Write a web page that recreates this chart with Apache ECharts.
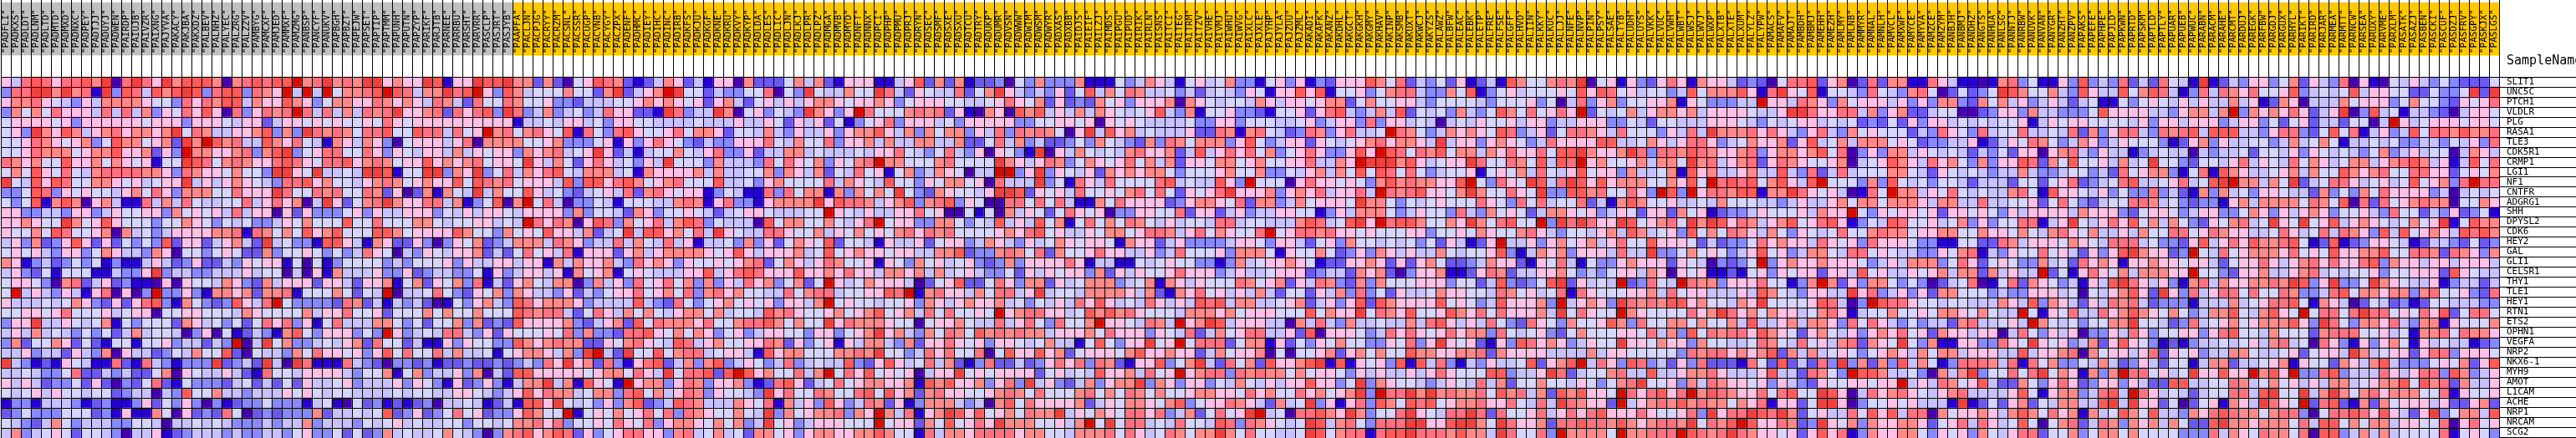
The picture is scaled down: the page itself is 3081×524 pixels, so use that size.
<!DOCTYPE html>
<html><head><meta charset="utf-8">
<style>html,body{margin:0;padding:0;background:#fff}#c{width:3081px;height:524px}</style>
<script src="https://cdn.jsdelivr.net/npm/echarts@6/dist/echarts.min.js"></script></head>
<body><div id="c"></div>
<script>
// colour levels 0..11 (hex digit per cell), one string per gene
const palette = ["#4500AD","#2700D1","#6B58EF","#8888FF","#C7C1FF","#D5D5FF","#FFC0E5","#FF8989","#FF7080","#FF5A5A","#EF4040","#D60C00"];
const greySamples = "PADFLI PADKXS PADLDT PADLNM PADLTD PADMTD PADMXD PADNXC PADPEY PADTJJ PADUYJ PADWEN PAIRDP PAIUJB PAIVZR PAIXNG PAJYVA PAKACY PAKJBA PAKXDZ PALBEV PALNHZ PALYEC PALZRG PALZZV PAMBYG PAMCXF PAMJED PAMMXF PAMZMG PANBSP PANCYF PANUKV PAPBGH PAPBZT PAPEJW PAPSET PAPTIP PAPTMM PAPUNH PAPUTN PAPZYP PARIKF PARJTB PARNEE PARRBU PARSHT PARVRR PASCLP PASJRT PASJYB".split(" ");
const yellowSamples = "PAAPFA PACLJN PACPJG PACRYY PACRZM PACSNL PACSSR PACUGP PACVNB PACYGY PACZPX PADENF PADHMC PADIEY PADIHC PADINC PADIRB PADKFS PADKJU PADKGF PADKNE PADKRU PADKVY PADKYP PADLDA PADLES PADLIC PADLJN PADLKJ PADLPR PADLPZ PADMGA PADMVB PADMYD PADNFT PADNNX PADPCI PADPHP PADPMU PADPRJ PADRYN PADSEC PADSMF PADSXE PADSXU PADTCU PADTRY PADUKP PADUMR PADVSN PADWWW PADWIM PADWSM PADWYR PADXAS PADXBB PAIDJS PAIEIF PAILZJ PAIMDS PAIPGU PAIPUD PAIRIK PAIRLN PAISNS PAITCI PAITEG PAITRM PAITZV PAIVHE PAIVMJ PAIWHU PAIWVG PAIXLC PAJXLE PAJYHP PAJYLA PAJZUU PAJZML PAKADI PAKAFK PAKANZ PAKDHL PAKGCT PAKGKH PAKGMY PAKHAV PAKINP PAKSMB PAKUXT PAKWCJ PAKYZS PALAWZ PALBFW PALEAC PALEBK PALETP PALFRE PALFSE PALGFF PALHVD PALIIN PALKKY PALKUC PALLJJ PALNFE PALNVP PALPIN PALPSY PALSAE PALTYB PALUDH PALUYS PALVKK PALVUC PALVWH PALWBT PALWSJ PALWVJ PALWXP PALXTB PALXTE PALXUM PALYLZ PALYPW PAMACS PAMAFV PAMAJT PAMBDH PAMBMJ PAMEHH PAMEZH PAMLMY PAMLNB PAMMYR PAMNAL PAMNLH PAMVCL PAMXWF PAMYCE PAMYVA PAMZCE PAMZYM PANBJH PANBMJ PANDHZ PANGTS PANHUA PANLSG PANNTJ PANRBW PANUVK PANVAN PANYGR PANZHT PANZPV PAPAKS PAPEFE PAPHPE PAPJLD PAPKWN PAPRTD PAPSKM PAPTLD PAPTLY PAPUAR PAPUEB PAPWUC PARABN PARACM PARAHE PARCMT PARDUJ PAREGK PARFBW PARGDJ PARGUX PARHYL PARIKT PARIRD PARJAR PARMEA PARMTT PARNCW PARSEA PARUXY PARVME PARXLM PASATK PASAZJ PASBEN PASCKI PASCUF PASDZJ PASFRV PASGPY PASKJX PASLGS".split(" ");
const geneNames = ["SLIT1","UNC5C","PTCH1","VLDLR","PLG","RASA1","TLE3","CDK5R1","CRMP1","LGI1","NF1","CNTFR","ADGRG1","SHH","DPYSL2","CDK6","HEY2","GAL","GLI1","CELSR1","THY1","TLE1","HEY1","RTN1","ETS2","OPHN1","VEGFA","NRP2","NKX6-1","MYH9","AMOT","L1CAM","ACHE","NRP1","NRCAM","SCG2"];

const r00="648986889 7a08a86a7 999707898 99b78a 787aa6766a91 66a99a772720 569872124762 416607222574 721666114692 727122305373 337111534764 156457331563 613266697582 435261241975 5787a0561632 686176642320 588926702827 711864110178 351163934382 428541a12436 635726438061 054643532225";
const r01="388aa7a78 1a3984979 a93899387 6b4b4b 57789b98477a 89b639745557 5527a2467ba5 52433558053a 544755a84265 448257a64343 625947587445 342454365166 969155635788 433759135645 556596985645 534957779618 a65915543854 3785025235a9 755743964495 798413848768 556934545946 655225335a2a";
const r02="677865436 477776553 868799476 697635 776687676487 428558755633 244455676765 626742564646 776566763566 655445686572 623275636667 076545547646 656772575566 435555435556 350483673556 6716533344b6 648763756664 636377327574 634642451153 565464644746 127604447566 635755326568";
const r03="375758666 484847365 869608368 78b848 474878a66782 86893a834734 534866221a83 44a70563543a 7636b8555787 826107609794 647476545694 371556332155 626894347492 545374359758 5686b2545746 776746666544 6aa866884736 722455002366 374433359666 644367747b37 67686246a039 451443204665";
const r04="566665636 666665666 366654662 466565 655658656666 666666144546 645366554444 544464465264 625135683666 453666663355 665606565444 453366355544 563466383664 540454655646 634466633542 554446665435 456645452325 263664545455 614656655554 636646663466 352562442550 4b6456665665";
const r05="563a76974 67867767a 587446679 373a87 875889559884 856b78578659 185389655685 776255474364 463677964737 577364838787 506a49674544 462287178542 387368445b87 534767659834 625887648555 36484a777868 643684375655 524386538455 844548273688 438789499944 368832595814 634958879778";
const r06="556876567 359775672 a7b978449 768541 764763056664 680777755673 335616368653 243366685475 583667474477 447225847342 235375432738 757773695346 626545678677 64a466367653 486666994457 646886345766 726945747775 652334461246 587534763465 553126736445 534745751445 453344354638";
const r07="556877756 779667263 b77667837 9a3568 855863654664 746566376784 56a624145575 468336244774 544454668543 5843606531a0 647545478667 249468685735 68633696b985 879577476866 8599a7667a83 887987667836 776795803637 746545424352 660678436441 345440434452 554636545435 734645504764";
const r08="876755966 757656155 a98578766 898658 896787566967 6785665a6475 268645364a55 537444385865 736578b77555 785555a76468 735765685747 266577567556 684476baaa79 64566a855875 9498b6755674 775a78467826 876556704569 764867537366 982759556474 5a5532554684 654857645774 678974614958";
const r09="575965854 788887763 876657553 aa65a4 454aa9155aa3 76a358476895 477745176666 747445573764 725485615734 765044bb36a3 654627676775 355567557335 467475959858 534556156574 854695663744 571967446744 943824845557 754265454344 743345534285 677315819764 456747559767 855886625657";
const r10="a54969855 776564566 a46467654 388967 554678756766 959878566649 399689756785 559445367555 584765495536 5775608444a3 518648555589 4544963b5550 686656537978 77669b53865a 948a96967775 57695b898957 9649b5553739 545355424442 552568234589 44568459ab77 475a24588645 645956738b88";
const r11="335983656 554675863 777558666 a85587 855872602717 54a475596453 245648278656 613541183857 71737575a532 765546aa9265 648556578585 26568a666736 76846684b878 96657a755865 a33997855863 b93b68879917 7a865640185b 774658545447 851966546353 383421737453 665442735375 866663404545";
const r12="535917970 674118474 854455846 86704a 62578a766884 7135907b5840 335415554478 716833167777 a69887467937 893650088585 841175866662 367765827734 756665a77535 456555865385 845582417975 564454755544 346446757757 776477448445 562585324558 874532331674 777758759082 856787705576";
const r13="663344366 346556637 565648466 062633 356364466635 464665466663 735542763556 542456654445 5b6546446685 600515074652 586560336655 826624634466 551364777534 655384375652 477656346526 627561233465 5564766b5365 665626656536 466664766632 566534663357 636467635564 385524362351";
const r14="667655a75 696555355 765354533 465755 595585557754 5566454b8687 069837568479 835444095775 575468b56633 775354946495 715857587546 455488455444 798459a6b899 75576a758955 b3a8a866a956 785a7a968746 795689613549 855645736355 88146a546869 574753265784 5a65a5694676 545756a15977";
const r15="655759855 670745346 666778187 575967 955599756666 975537565966 47245a499675 84a654488655 746575657868 785555676895 644657756887 468576558b56 887866565556 635565765578 643554674974 563957587647 536545855787 756677557665 754786574464 755885687664 458645848763 949567649897";
const r16="463723696 262535392 66246742a 453319 964176226303 657234777487 634484754846 144537362576 592554164462 566347643645 765665176624 633334665366 425637554545 35264126b446 367567468559 666524233586 766486563866 653311552287 466657654888 453326946869 778951291236 654124432523";
const r17="565643663 576443760 553565227 355653 534865043654 667242585648 166626746777 765696466674 595676656644 779233787582 755686644634 855563777516 557523637646 447545569314 76736664844a 335756534695 634775488565 443365781436 55856426369a 76623b548567 776856596677 955887287637";
const r18="761342353 513114642 362243656 615051 355553435556 364466466174 766743867636 556567825764 687556165375 645632373666 686144115456 553313745667 651226676262 675223476621 658415336766 6265403235b3 676676665346 477735862565 337452867616 676656642566 864678686689 376646646664";
const r19="463251555 114336a34 433444645 504061 744463362344 335163466461 756715654446 694689866696 676866477674 745643352646 566372646556 866634644566 623442767203 667112687244 667534356647 606561121563 656626649564 465674772746 44b251686574 77766b553266 744678454556 355666296544";
const r20="566530782 462311060 655476327 466626 642667157265 738142675477 037463856857 373648673572 5b6457666402 569225863772 645777345717 646555875672 648732737555 666355249323 59a26454b238 54b877366685 5137b7263775 353024580158 2765341649a8 646317847667 787a936a335a 765446134424";
const r21="5b4643641 680603b33 631776727 781555 75254b044585 326573764436 243566856758 378675544857 884556698b17 8664758846a4 554777764721 768564647425 526473835264 457665548756 458186555667 485664446497 5436644a6834 636277555343 366645054679 62a638468858 558733489577 677378556328";
const r22="644454576 326268931 753239648 b53333 287241434201 536743986777 634444943285 356756563664 7b5655455637 646766745354 648696454864 649894774456 724636929766 669565349666 73b46763a878 7996755476a5 555698403b98 865545544476 493764264878 423331444745 688951764025 423125544433";
const r23="556656855 564566055 665554765 555746 685562555757 557555987884 258647575467 757455497865 567567956748 585565b67886 645979786555 477767566655 595766a58769 556976858666 74a58655b765 555867a86757 664578614557 556577657544 b51658448679 765753477954 7965b58858a8 856586925885";
const r24="366a44654 571535552 764535258 683615 844477535255 737232966667 324672958777 685578897575 5a6877765505 667544846853 8557b6654874 b67a94666440 748437445447 489646485328 653755697385 577575574944 674776385864 353442784456 4b754535577a 554238456756 777963a85377 684377165557";
const r25="464745435 352474554 036051243 179536 66353b634548 843626555658 373328896575 763563466553 663567a67437 587597878774 666758666365 482475688446 290666534868 656867738545 632575556658 473958788697 652675463676 856276646604 853646033648 635566368955 475552788855 645177858776";
const r26="372557625 215515563 44243b04a 573345 467285524116 365533976787 722657865498 467556687263 561647743726 686563665457 441595366a56 b58882577162 536575533658 36a656216398 67634655a665 766375544587 548564782765 a53711663386 5a6563472696 531213445456 478450863163 675164544123";
const r27="446344264 370644235 475592054 437586 656369585584 744515677647 3ab42a559578 845664196775 557787a55348 685580596696 725666579667 662475667050 556726757559 776677827666 644447466555 553878867679 274745653567 647577466644 946678075664 682656344775 445625664a74 566268836665";
const r28="a43121654 118218431 333a2342a 40a811 184320332312 23223234386a 672831689247 379346534834 544932696458 472138224236 868387216693 57a428572966 79a191656391 948314364459 2679b4863983 426382221852 924283a37273 947513888748 185733547423 642551477244 567165527647 943335657269";
const r29="445433582 243422570 654464218 554666 643557157344 637042996666 656775864a58 8929b9675584 7b5869565604 66a565666625 645496674856 b67883878775 756653646446 468655599344 6a8245578449 446778644469 4428753b9974 4530747a3558 58a5761737b8 85645a66966b 796b33893444 864688397346";
const r30="646423352 620325821 533324524 252644 563444636531 623631477a47 19651b677368 736673128962 458567766719 796673683a46 32473677a376 366354754646 696635a37655 434654847255 7554653578a5 563748766563 643265566566 b46487569422 753686236636 422994455874 575646477456 779597827446";
const r31="545646554 552344043 955744344 465654 554444545544 665434696877 457738957468 7365543a6855 875589596727 866556787585 557857587575 567766586755 867567a3b88a 7a7877859784 72979665b868 968b79876685 8955a9604867 865467844446 95167734894b 864542455884 9a55a47a7578 677755816556";
const r32="133144431 231136253 630312335 333145 105231212304 4541241996a5 453637923498 744476581746 396348726137 774340795866 667246577657 935668764274 5a3616839759 895677866854 84a87662b467 879787757681 6625aa603556 564441a12526 725477449a4a 662502561764 a865b2892172 756664622672";
const r33="235333555 231611750 623285023 233372 445459236235 85623369755b 156575685838 7655754a3756 778376b74816 7a9695675877 a46576588683 4725856ab450 88976a73558a 65488a828556 846868966686 55683a688a98 a72564485969 488075667647 975867174597 594437689877 578830588986 96426a357749";
const r34="543247534 443355404 454543334 344734 443545645445 535545778683 556586583677 6575734a5634 666555b56627 595686a77755 647b5a588454 855498387654 5a947853888a a669aa75a866 728898879767 887a5879b966 8723a6573766 776256848645 950578248737 67475229a776 777584995757 746655806856";
const r35="473456525 543044612 344434334 435633 525237454457 543037896798 263568866378 457452775636 776677975518 477688886775 547778586458 7577a7585544 5a957881899a 88879774a855 83b77775b778 88b9878a8766 562696813766 775365637546 882557357757 555533384765 877580993474 745555815653";
const rowStrings=[r00,r01,r02,r03,r04,r05,r06,r07,r08,r09,r10,r11,r12,r13,r14,r15,r16,r17,r18,r19,r20,r21,r22,r23,r24,r25,r26,r27,r28,r29,r30,r31,r32,r33,r34,r35];

const samples = greySamples.concat(yellowSamples);
const cells = [];
rowStrings.forEach((s, r) => {
  const digits = s.replace(/ /g, "");
  if (digits.length !== samples.length) throw new Error("row " + r + " has " + digits.length);
  for (let c = 0; c < digits.length; c++) cells.push([c, r, parseInt(digits[c], 16)]);
});
const bandCells = samples.map((n, i) => ({ value: [i, 0, i < greySamples.length ? 0 : 1],
  itemStyle: { color: i < greySamples.length ? "#C0C0C0" : "#FFC800" } }));

const MONO = "'DejaVu Sans Mono', monospace";
const BLACK = { color: "#000", width: 1 };
const W = 2988;
const hidden = { show: false };
const chart = echarts.init(document.getElementById("c"), null, { renderer: "canvas" });
chart.setOption({
  animation: false,
  title: { text: "SampleName", left: 2998, top: 66, padding: 0,
    textStyle: { fontFamily: MONO, fontSize: 15, fontWeight: "normal", color: "#000" } },
  grid: [
    { left: 1, top: 92, width: W, height: 432 },
    { left: 1, top: 3, width: W, height: 63 },
    { left: 1, top: 0, width: W, height: 92 },
    { left: W + 1, top: 92, width: 92, height: 432 }
  ],
  xAxis: [
    { gridIndex: 0, type: "category", data: samples, z: 5, axisLine: hidden, axisTick: hidden, axisLabel: hidden,
      splitLine: { show: true, interval: 0, lineStyle: BLACK } },
    { gridIndex: 1, type: "category", data: samples, z: 5, position: "bottom", axisLine: hidden, axisTick: hidden,
      axisLabel: { show: true, inside: true, interval: 0, rotate: 90, margin: 2, hideOverlap: false,
        fontFamily: MONO, fontSize: 11, color: "#000", formatter: v => '"' + v + '"' } },
    { gridIndex: 2, type: "category", data: samples, z: 6, axisLine: hidden, axisTick: hidden, axisLabel: hidden,
      splitLine: { show: true, interval: 0, lineStyle: BLACK } },
    { gridIndex: 3, type: "value", show: false }
  ],
  yAxis: [
    { gridIndex: 0, type: "category", data: geneNames, inverse: true, z: 5, axisLine: hidden, axisTick: hidden, axisLabel: hidden,
      splitLine: { show: true, interval: 0, lineStyle: BLACK } },
    { gridIndex: 1, type: "category", data: ["group"], show: false },
    { gridIndex: 2, type: "value", show: false },
    { gridIndex: 3, type: "category", data: geneNames, inverse: true, z: 5, axisLine: hidden, axisTick: hidden,
      axisLabel: { show: true, inside: true, interval: 0, margin: 9, fontFamily: MONO, fontSize: 11, color: "#000", verticalAlign: "middle", lineHeight: 11, padding: [3, 0, 0, 0] },
      splitLine: { show: true, interval: 0, lineStyle: BLACK } }
  ],
  visualMap: { show: false, type: "piecewise", seriesIndex: 0, dimension: 2,
    pieces: palette.map((color, i) => ({ value: i, color })) },
  series: [
    { type: "heatmap", xAxisIndex: 0, yAxisIndex: 0, data: cells, progressive: 0, emphasis: { disabled: true }, z: 1 },
    { type: "heatmap", xAxisIndex: 1, yAxisIndex: 1, data: bandCells, progressive: 0, emphasis: { disabled: true }, z: 1 }
  ]
});
</script></body></html>
